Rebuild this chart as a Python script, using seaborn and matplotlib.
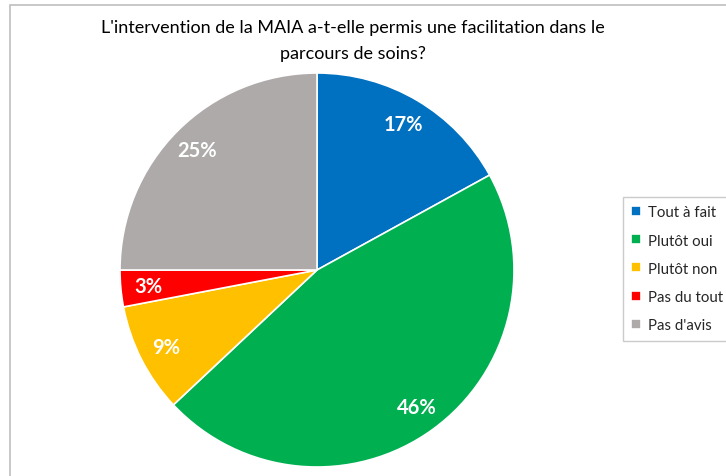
"""Pie chart: MAIA intervention survey."""

import matplotlib.pyplot as plt
import seaborn as sns
from matplotlib.patches import Rectangle

labels = ['Tout à fait', 'Plutôt oui', 'Plutôt non', 'Pas du tout', "Pas d'avis"]
values = [17, 46, 9, 3, 25]
colors = ['#0070C0', '#00B050', '#FFC000', '#FF0000', '#AEAAAA']
title = "L'intervention de la MAIA a-t-elle permis une facilitation dans le\nparcours de soins?"

sns.set_theme(style='white')
plt.rcParams['font.family'] = ['Lato', 'DejaVu Sans']

fig = plt.figure(figsize=(7.26, 4.77), dpi=100)

# chart area border (cut off at right and bottom)
fig.patches.append(Rectangle((10 / 726, -0.05), 1.1, 1 - 6 / 477 + 0.05,
                             transform=fig.transFigure, fill=False,
                             edgecolor='#BFBFBF', linewidth=1.2))

ax = fig.add_axes([120 / 726, 9 / 477, 394 / 726, 394 / 477])
wedges, texts, autotexts = ax.pie(
    values, colors=sns.color_palette(colors), startangle=90, counterclock=False,
    autopct='%.0f%%', pctdistance=0.86,
    wedgeprops=dict(edgecolor='white', linewidth=1.2),
    textprops=dict(color='white', fontsize=14.5, fontweight='bold'))
ax.set_xlim(-1, 1)
ax.set_ylim(-1, 1)
ax.set_aspect('equal')

fig.text(353 / 726, 1 - 41 / 477, title, ha='center', va='center',
         fontsize=13, linespacing=1.7, color='#000000')

fig.legend(wedges, labels, loc='upper left', bbox_to_anchor=(623 / 726, 1 - 198 / 477),
           fontsize=10.8, frameon=True, fancybox=False, edgecolor='#BFBFBF',
           handlelength=0.65, handleheight=0.65, handletextpad=0.45,
           labelspacing=0.95, borderpad=0.55, borderaxespad=0)

plt.savefig('out.png', dpi=100)
